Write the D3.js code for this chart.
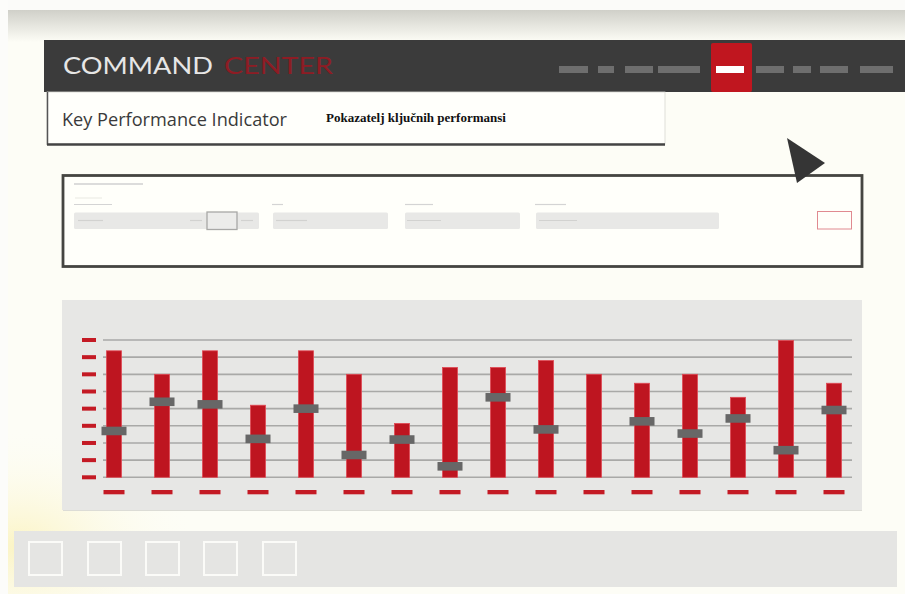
<!DOCTYPE html>
<html lang="en">
<head>
    <meta charset="UTF-8">
    <title>Command Center - KPI</title>
    <script src="https://d3js.org/d3.v7.min.js"></script>
    <style>
        html, body { margin: 0; padding: 0; background: #fdfdf6; }
        svg { display: block; }
    </style>
</head>
<body>
<div id="chart-container"></div>
<script>
    // ---- chart data ----
    const categories = ["1", "2", "3", "4", "5", "6", "7", "8", "9", "10", "11", "12", "13", "14", "15", "16"];
    const barValues = [7.37, 6.0, 7.37, 4.2, 7.37, 6.0, 3.14, 6.4, 6.4, 6.8, 6.0, 5.48, 6.0, 4.66, 7.97, 5.48];
    const markerValues = [2.7, 4.4, 4.25, 2.24, 4.0, 1.3, 2.2, 0.64, 4.66, 2.79, null, 3.26, 2.55, 3.43, 1.58, 3.92];
    const yTicks = [0, 1, 2, 3, 4, 5, 6, 7, 8];

    const width = 905;
    const height = 594;

    const svg = d3.select("#chart-container")
        .append("svg")
        .attr("width", width)
        .attr("height", height);

    const defs = svg.append("defs");

    // top shadow of the frame
    const topGrad = defs.append("linearGradient")
        .attr("id", "topGrad")
        .attr("x1", 0).attr("y1", 0).attr("x2", 0).attr("y2", 1);
    topGrad.append("stop").attr("offset", "0%").attr("stop-color", "#d0d0c9");
    topGrad.append("stop").attr("offset", "100%").attr("stop-color", "#fdfdf6");

    // yellow glow in the lower left corner
    const glow = defs.append("radialGradient")
        .attr("id", "glow")
        .attr("cx", 0.02).attr("cy", 0.92).attr("r", 0.2);
    glow.append("stop").attr("offset", "0%").attr("stop-color", "#fbf4c4");
    glow.append("stop").attr("offset", "100%").attr("stop-color", "#fdfdf6").attr("stop-opacity", 0);

    // background
    svg.append("rect").attr("width", width).attr("height", height).attr("fill", "#fdfdf6");
    svg.append("rect").attr("width", width).attr("height", height).attr("fill", "url(#glow)");
    svg.append("rect").attr("width", width).attr("height", 10).attr("fill", "#fbfbf9");
    svg.append("rect").attr("x", 8).attr("y", 10).attr("width", width - 8).attr("height", 32).attr("fill", "url(#topGrad)");
    svg.append("rect").attr("x", 0).attr("y", 0).attr("width", 8).attr("height", height).attr("fill", "#fcfcfa");

    // ---- header bar ----
    svg.append("rect")
        .attr("x", 44).attr("y", 40)
        .attr("width", width - 44).attr("height", 52)
        .attr("fill", "#3b3b3b");

    svg.append("text")
        .attr("x", 63).attr("y", 74)
        .attr("font-family", "Lato, sans-serif")
        .attr("font-weight", 400)
        .attr("font-size", 24)
        .attr("textLength", 150)
        .attr("lengthAdjust", "spacingAndGlyphs")
        .attr("fill", "#e6e6e6")
        .text("COMMAND");

    svg.append("text")
        .attr("x", 224).attr("y", 74)
        .attr("font-family", "Lato, sans-serif")
        .attr("font-weight", 400)
        .attr("font-size", 24)
        .attr("textLength", 109)
        .attr("lengthAdjust", "spacingAndGlyphs")
        .attr("fill", "#8e1c24")
        .text("CENTER");

    // navigation pills
    const navDashes = [[559, 588], [598, 614], [625, 653], [658, 700], [756, 784], [793, 811], [820, 848], [860, 893]];
    svg.append("rect")
        .attr("x", 711).attr("y", 43)
        .attr("width", 41).attr("height", 49)
        .attr("rx", 2)
        .attr("fill", "#c0161f");
    svg.selectAll(".nav")
        .data(navDashes)
        .join("rect")
        .attr("class", "nav")
        .attr("x", d => d[0]).attr("y", 66)
        .attr("width", d => d[1] - d[0]).attr("height", 7)
        .attr("fill", "#6e6e6e");
    svg.append("rect")
        .attr("x", 716).attr("y", 66)
        .attr("width", 28).attr("height", 7)
        .attr("fill", "#ffffff");

    // ---- title box ----
    svg.append("rect")
        .attr("x", 47).attr("y", 92)
        .attr("width", 618).attr("height", 52)
        .attr("fill", "#fffffb")
        .attr("stroke", "#d8d8d2")
        .attr("stroke-width", 0.8);
    svg.append("line")
        .attr("x1", 47.5).attr("x2", 47.5).attr("y1", 92).attr("y2", 145)
        .attr("stroke", "#555").attr("stroke-width", 1.5);
    svg.append("line")
        .attr("x1", 47).attr("x2", 665).attr("y1", 144.5).attr("y2", 144.5)
        .attr("stroke", "#444").attr("stroke-width", 2.5);

    svg.append("text")
        .attr("x", 62).attr("y", 126)
        .attr("font-family", "'Open Sans', sans-serif")
        .attr("font-size", 18.5)
        .attr("textLength", 225)
        .attr("lengthAdjust", "spacingAndGlyphs")
        .attr("fill", "#3a3a3a")
        .text("Key Performance Indicator");

    svg.append("text")
        .attr("x", 326).attr("y", 122)
        .attr("font-family", "'Liberation Serif', 'Times New Roman', serif")
        .attr("font-weight", "bold")
        .attr("font-size", 12.5)
        .attr("textLength", 180)
        .attr("lengthAdjust", "spacingAndGlyphs")
        .attr("fill", "#111")
        .text("Pokazatelj ključnih performansi");

    // ---- filter box ----
    svg.append("rect")
        .attr("x", 63).attr("y", 175.5)
        .attr("width", 799).attr("height", 91)
        .attr("fill", "#fffffa")
        .attr("stroke", "#454541")
        .attr("stroke-width", 2.8);

    const filterFields = [[74, 259], [273, 388], [405, 520], [536, 719]];
    const filterLabels = [[74, 112], [272, 283], [405, 433], [535, 566]];
    const filterDashes = [[78, 103], [190, 202], [241, 253], [276, 307], [407, 441], [539, 577]];

    svg.append("line")
        .attr("x1", 74).attr("x2", 143).attr("y1", 184).attr("y2", 184)
        .attr("stroke", "#d0d0d0").attr("stroke-width", 1.5);
    svg.append("line")
        .attr("x1", 75).attr("x2", 102).attr("y1", 198).attr("y2", 198)
        .attr("stroke", "#f0f0ea").attr("stroke-width", 1.5);
    svg.selectAll(".flabel")
        .data(filterLabels)
        .join("line")
        .attr("class", "flabel")
        .attr("x1", d => d[0]).attr("x2", d => d[1])
        .attr("y1", 204.5).attr("y2", 204.5)
        .attr("stroke", "#d4d4d4").attr("stroke-width", 1.2);
    svg.selectAll(".field")
        .data(filterFields)
        .join("rect")
        .attr("class", "field")
        .attr("x", d => d[0]).attr("y", 212.5)
        .attr("width", d => d[1] - d[0]).attr("height", 16.5)
        .attr("rx", 1.5)
        .attr("fill", "#e8e8e6");
    svg.selectAll(".fdash")
        .data(filterDashes)
        .join("line")
        .attr("class", "fdash")
        .attr("x1", d => d[0]).attr("x2", d => d[1])
        .attr("y1", 220.5).attr("y2", 220.5)
        .attr("stroke", "#d2d2d0").attr("stroke-width", 1.2);
    svg.append("rect")
        .attr("x", 207).attr("y", 212)
        .attr("width", 30).attr("height", 17.5)
        .attr("fill", "#ececea")
        .attr("stroke", "#a8a8a6")
        .attr("stroke-width", 1.3);
    svg.append("rect")
        .attr("x", 817.5).attr("y", 211.5)
        .attr("width", 34).attr("height", 17.5)
        .attr("fill", "#fffffa")
        .attr("stroke", "#e08a90")
        .attr("stroke-width", 1);

    // cursor arrow
    svg.append("path")
        .attr("d", "M787,138 L825,163 L797,183 Z")
        .attr("fill", "#353535");

    // ---- bar chart ----
    svg.append("rect")
        .attr("x", 62).attr("y", 300)
        .attr("width", 800).attr("height", 210)
        .attr("fill", "#e7e7e5");
    svg.append("line")
        .attr("x1", 63).attr("x2", 862).attr("y1", 510.5).attr("y2", 510.5)
        .attr("stroke", "#dcdcd6").attr("stroke-width", 1);

    const xScale = d3.scaleBand()
        .domain(categories)
        .range([90, 858]);

    const yScale = d3.scaleLinear()
        .domain([0, 8])
        .range([477.3, 340]);

    const barWidth = 15;

    // gridlines
    svg.selectAll(".grid")
        .data(yTicks)
        .join("line")
        .attr("class", "grid")
        .attr("x1", 103).attr("x2", 852)
        .attr("y1", d => yScale(d)).attr("y2", d => yScale(d))
        .attr("stroke", "#a9a9a7")
        .attr("stroke-width", 1.6);

    // left tick dashes
    svg.selectAll(".ytick")
        .data(yTicks)
        .join("rect")
        .attr("class", "ytick")
        .attr("x", 82).attr("y", d => yScale(d) - 2)
        .attr("width", 14).attr("height", 4)
        .attr("fill", "#c41a24");

    // bars
    svg.selectAll(".bar")
        .data(categories)
        .join("rect")
        .attr("class", "bar")
        .attr("x", d => xScale(d) + xScale.bandwidth() / 2 - barWidth / 2)
        .attr("y", (d, i) => yScale(barValues[i]))
        .attr("width", barWidth)
        .attr("height", (d, i) => yScale(0) - yScale(barValues[i]))
        .attr("fill", "#be1520")
        .attr("stroke", "#e04a55")
        .attr("stroke-width", 0.8);

    // gray markers
    const markers = categories
        .map((c, i) => ({ c: c, v: markerValues[i] }))
        .filter(d => d.v !== null);
    svg.selectAll(".marker")
        .data(markers)
        .join("rect")
        .attr("class", "marker")
        .attr("x", d => xScale(d.c) + xScale.bandwidth() / 2 - 12.5)
        .attr("y", d => yScale(d.v) - 4.3)
        .attr("width", 25)
        .attr("height", 8.6)
        .attr("fill", "#676767");

    // bottom category dashes
    svg.selectAll(".xtick")
        .data(categories)
        .join("rect")
        .attr("class", "xtick")
        .attr("x", d => xScale(d) + xScale.bandwidth() / 2 - 10.5)
        .attr("y", 490)
        .attr("width", 21).attr("height", 4.3)
        .attr("fill", "#c41a24");

    // ---- bottom toolbar ----
    svg.append("rect")
        .attr("x", 14).attr("y", 531)
        .attr("width", 883).attr("height", 56)
        .attr("fill", "#e5e5e3");
    const toolButtons = [29, 88, 146, 204, 263];
    svg.selectAll(".tool")
        .data(toolButtons)
        .join("rect")
        .attr("class", "tool")
        .attr("x", d => d).attr("y", 542)
        .attr("width", 33).attr("height", 33)
        .attr("fill", "none")
        .attr("stroke", "#fbfbf8")
        .attr("stroke-width", 2);
</script>
</body>
</html>
